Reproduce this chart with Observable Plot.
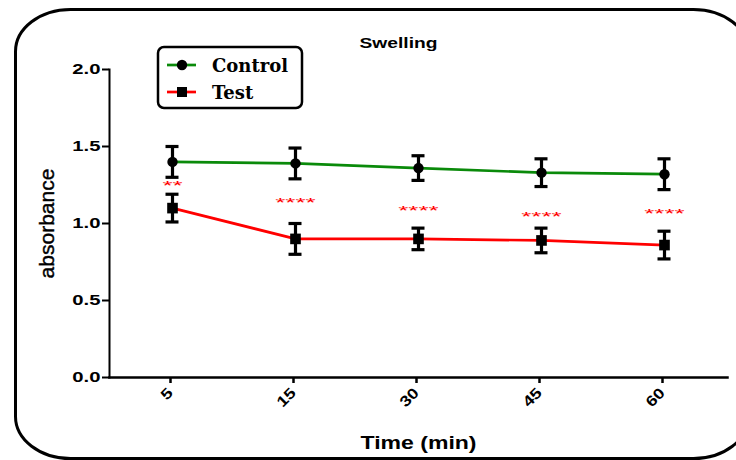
<!DOCTYPE html>
<html><head><meta charset="utf-8">
<script src="https://cdn.jsdelivr.net/npm/d3@7"></script>
<script src="https://cdn.jsdelivr.net/npm/@observablehq/plot@0.6"></script>
<style>
body{margin:0;background:#fff}
svg{font-family:"Liberation Sans",Arial,sans-serif}
</style>
</head><body><div id="chart"></div>
<script>
const times = ["5","15","30","45","60"];
const controlMean = [1.40, 1.39, 1.36, 1.33, 1.32];
const controlErr  = [0.10, 0.10, 0.08, 0.09, 0.10];
const testMean    = [1.10, 0.90, 0.90, 0.89, 0.86];
const testErr     = [0.09, 0.10, 0.07, 0.08, 0.09];
const starLabels  = ["**","****","****","****","****"];
const starY       = [1.26, 1.15, 1.10, 1.06, 1.08];
const yTicks      = [0, 0.5, 1.0, 1.5, 2.0];
const groups      = ["Control","Test"];
const groupColors = ["#0a8a0a","#ff0000"];
const groupSymbols= ["circle","square"];
const titleText = "Swelling";
const xLabel = "Time (min)";
const yLabel = "absorbance";

const rows = [];
times.forEach((t,i)=>{
  rows.push({time:t, group:"Control", mean:controlMean[i], lo:controlMean[i]-controlErr[i], hi:controlMean[i]+controlErr[i]});
  rows.push({time:t, group:"Test", mean:testMean[i], lo:testMean[i]-testErr[i], hi:testMean[i]+testErr[i]});
});
const stars = times.map((t,i)=>({time:t, label:starLabels[i], y:starY[i]}));
const ctrl = rows.filter(d=>d.group==="Control");
const test = rows.filter(d=>d.group==="Test");

const chart = Plot.plot({
  width:736, height:460,
  marginLeft:109, marginRight:9, marginTop:69, marginBottom:83,
  style:{fontFamily:"Liberation Sans, Arial, sans-serif", background:"white"},
  x:{type:"point", domain:times, padding:0.5},
  y:{domain:[0,2]},
  color:{domain:groups, range:groupColors},
  marks:[
    Plot.frame({rx:55, ry:42, insetLeft:-94, insetTop:-60, insetRight:-21, insetBottom:-81, stroke:"black", strokeWidth:3, fill:"none"}),
    Plot.frame({anchor:"left", stroke:"black", strokeWidth:2}),
    Plot.frame({anchor:"bottom", stroke:"black", strokeWidth:2.5}),
    Plot.axisY({ticks:yTicks, tickFormat:d3.format(".1f"), tickSize:7, tickPadding:2, label:null, fontSize:15, fontWeight:"bold", strokeWidth:2}),
    Plot.axisX({tickSize:6, tickPadding:7, tickRotate:-45, dx:-2, label:null, fontSize:15, fontWeight:"bold", strokeWidth:2.5}),
    Plot.lineY(rows, {x:"time", y:"mean", z:"group", stroke:"group", strokeWidth:2.7}),
    Plot.ruleX(rows, {x:"time", y1:"lo", y2:"hi", stroke:"black", strokeWidth:3.2}),
    Plot.ruleY(rows, {x1:"time", x2:"time", y:"hi", insetLeft:-6.5, insetRight:-6.5, stroke:"black", strokeWidth:3.2}),
    Plot.ruleY(rows, {x1:"time", x2:"time", y:"lo", insetLeft:-6.5, insetRight:-6.5, stroke:"black", strokeWidth:3.2}),
    Plot.dot(ctrl, {x:"time", y:"mean", r:5.2, symbol:"circle", fill:"black"}),
    Plot.dot(test, {x:"time", y:"mean", r:6, symbol:"square", fill:"black"}),
    Plot.text(stars, {x:"time", y:"y", text:"label", fill:"red", fontSize:13, lineAnchor:"bottom", dy:7, className:"stars"}),
    Plot.text([titleText], {text:d=>d, frameAnchor:"top", dx:-20, dy:-22, lineAnchor:"bottom", fontSize:15, fontWeight:"bold", className:"ttl"}),
    Plot.text([xLabel], {text:d=>d, frameAnchor:"bottom", dy:71, lineAnchor:"bottom", fontSize:18, fontWeight:"bold", className:"xlab"}),
    Plot.text([yLabel], {text:d=>d, frameAnchor:"left", textAnchor:"middle", rotate:-90, dx:-62, fontSize:21, fill:"black", stroke:"black", strokeWidth:0.4, className:"ylab"})
  ]
});
document.getElementById("chart").appendChild(chart);

function stretch(sel, f){
  sel.each(function(){
    const L = this.getComputedTextLength();
    if (L > 0){ this.setAttribute("textLength", L*f); this.setAttribute("lengthAdjust","spacingAndGlyphs"); }
  });
}
const svg = d3.select(chart);
stretch(svg.selectAll('[aria-label="y-axis tick label"] text'), 1.35);
stretch(svg.selectAll('[aria-label="x-axis tick label"] text'), 1.2);
stretch(svg.selectAll('.ttl text'), 1.28);
stretch(svg.selectAll('.xlab text'), 1.28);
stretch(svg.selectAll('.stars text'), 2.0);

// legend
const lg = svg.append("g").attr("class","legend").attr("text-anchor","start");
lg.append("rect").attr("x",158).attr("y",47).attr("width",144).attr("height",61).attr("rx",6)
  .attr("fill","white").attr("stroke","black").attr("stroke-width",2.5);
groups.forEach((g,i)=>{
  const cy = 65 + i*27;
  lg.append("line").attr("x1",167).attr("x2",196).attr("y1",cy).attr("y2",cy)
    .attr("stroke",groupColors[i]).attr("stroke-width",2.7);
  lg.append("path").attr("transform",`translate(182,${cy})`)
    .attr("d", d3.symbol(groupSymbols[i]==="circle"?d3.symbolCircle:d3.symbolSquare, groupSymbols[i]==="circle"?85:100)())
    .attr("fill","black");
  lg.append("text").attr("x",212).attr("y",cy+7).text(g)
    .attr("font-family","'DejaVu Serif', serif").attr("font-weight","bold").attr("font-size",18);
});
</script>
</body></html>
